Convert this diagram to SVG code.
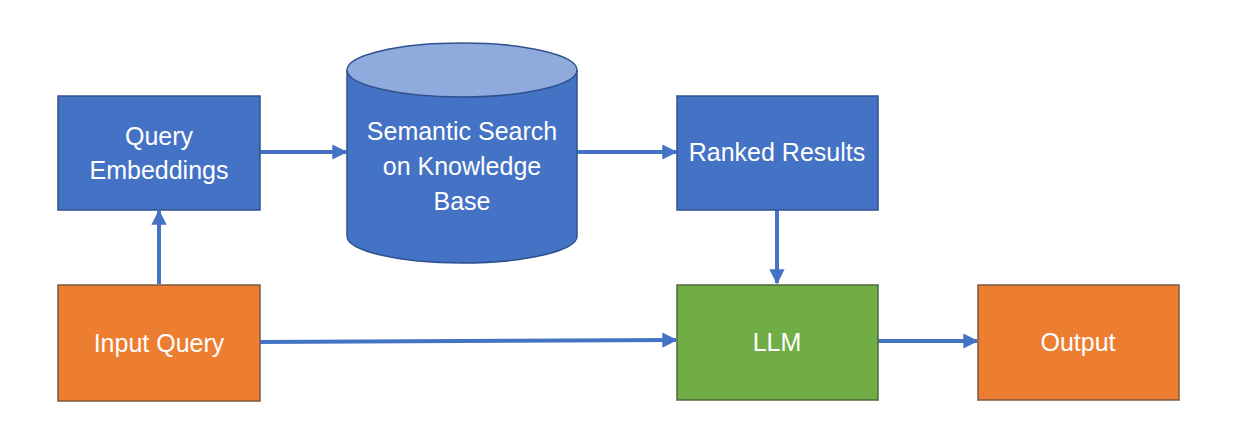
<svg xmlns="http://www.w3.org/2000/svg" width="1233" height="443" viewBox="0 0 1233 443">
<style>
.blue{fill:#4472C4;stroke:#2F528F;stroke-width:1.5}
.orange{fill:#ED7D31;stroke:#7a5a40;stroke-width:1.5}
.green{fill:#70AD47;stroke:#4f6a40;stroke-width:1.5}
.lbl{font-family:"Liberation Sans",Arial,sans-serif;font-size:25px;fill:#fff;text-anchor:middle}
.edge{stroke:#4472C4;stroke-width:4;fill:none;marker-end:url(#ah)}
</style>
<defs>
<marker id="ah" viewBox="0 0 10 10" refX="9" refY="5" markerWidth="3.8" markerHeight="3.8" orient="auto" markerUnits="strokeWidth">
<path d="M0,0 L10,5 L0,10 Z" fill="#4472C4"/>
</marker>
</defs>
<rect width="1233" height="443" fill="#fff"/>
<g id="connectors">
<line class="edge" x1="260" y1="152" x2="346" y2="152"/>
<line class="edge" x1="577" y1="152" x2="676" y2="152"/>
<line class="edge" x1="159" y1="284" x2="159" y2="211"/>
<line class="edge" x1="777" y1="210" x2="777" y2="283"/>
<line class="edge" x1="260" y1="342" x2="676" y2="340"/>
<line class="edge" x1="878" y1="341" x2="977" y2="341"/>
</g>
<g id="query-embeddings">
<rect class="blue" x="58" y="96" width="202" height="114"/>
<text class="lbl" x="159" y="145">Query</text>
<text class="lbl" x="159" y="179">Embeddings</text>
</g>
<g id="semantic-search">
<path class="blue" d="M347,70 L347,236 A115,27 0 0 0 577,236 L577,70"/>
<ellipse cx="462" cy="70" rx="115" ry="27" fill="#8FAADC" stroke="#2F528F" stroke-width="1.5"/>
<text class="lbl" x="462" y="140">Semantic Search</text>
<text class="lbl" x="462" y="175">on Knowledge</text>
<text class="lbl" x="462" y="210">Base</text>
</g>
<g id="ranked-results">
<rect class="blue" x="677" y="96" width="201" height="114"/>
<text class="lbl" x="777" y="161">Ranked Results</text>
</g>
<g id="input-query">
<rect class="orange" x="58" y="285" width="202" height="116"/>
<text class="lbl" x="159" y="352">Input Query</text>
</g>
<g id="llm">
<rect class="green" x="677" y="285" width="201" height="115"/>
<text class="lbl" x="777" y="351">LLM</text>
</g>
<g id="output">
<rect class="orange" x="978" y="285" width="201" height="115"/>
<text class="lbl" x="1078" y="351">Output</text>
</g>
</svg>
